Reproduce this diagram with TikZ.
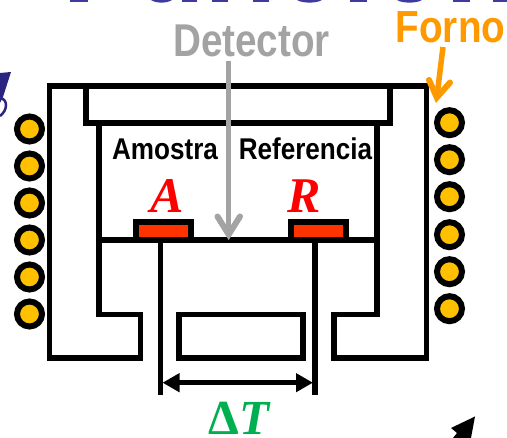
\documentclass[tikz,border=0pt]{standalone}
\usepackage{fontspec}
\usepackage{graphicx}
\setmainfont{Liberation Sans}
\newfontfamily\serifbi{Liberation Serif}
\usetikzlibrary{arrows.meta}
\definecolor{heater}{HTML}{FFC000}
\definecolor{ovenc}{HTML}{FF9900}
\definecolor{detc}{HTML}{A3A3A3}
\definecolor{panred}{HTML}{FF3300}
\definecolor{dtgreen}{HTML}{00B050}
\definecolor{titleblue}{HTML}{3F3A9E}
\definecolor{logoblue}{HTML}{2A2580}
\tikzset{
  wall/.style={draw=black,line width=5.8pt,line join=miter},
  coil/.style={circle,draw=black,fill=heater,line width=6pt,minimum size=25pt,inner sep=0pt},
  pan/.style={rectangle,draw=black,fill=panred,line width=6pt,minimum width=55pt,minimum height=18pt,inner sep=0pt},
  sanslab/.style={inner sep=0pt,anchor=base,font=\bfseries},
  seriflab/.style={inner sep=0pt,anchor=base,text=red,font=\serifbi\bfseries\itshape\fontsize{50}{50}\selectfont},
  titlefrag/.style={fill=titleblue,draw=none}
}
\begin{document}
\begin{tikzpicture}[x=1pt,y=-1pt]
\useasboundingbox (0,0) rectangle (507,438);
% cropped fragments along the edges
\foreach \a/\b in {70/88,182/197,212/228,253/269,350/367,453/470,493/507}
  \fill[titlefrag] (\a,0) rectangle (\b,1.6);
\foreach \a/\b in {151/172,297/322,397/422}
  \fill[titlefrag] (\a,0) .. controls (\a+5,3.5) and (\b-5,3.5) .. (\b,0) -- cycle;
\fill[logoblue] (0,73) -- (11,72) -- (3,97) -- (0,103) -- cycle;
\draw[logoblue,line width=2.5pt] (0,98) .. controls (8,99) and (8,110) .. (0,116);
\fill[black] (475,416.5) -- (451,428) -- (457,433) -- (453,438) -- (471,438) -- cycle;
% oven body
\draw[wall] (99,123) -- (99,314.5) -- (140.5,314.5) -- (140.5,358) -- (49.5,358) -- (49.5,86) -- (426.5,86) -- (426.5,358) -- (334,358) -- (334,314.5) -- (377,314.5) -- (377,123);
\draw[wall] (86,86) -- (86,123) -- (390,123) -- (390,86);
\draw[wall] (99,240) -- (377,240);
\draw[wall] (179,314.5) rectangle (303,358);
% coils
\foreach \n/\y in {1/129,2/166,3/203,4/240,5/277,6/314}
  \node[coil] (cl\n) at (29.5,\y) {};
\foreach \n/\y in {1/122.7,2/159.7,3/196.7,4/234.7,5/271.7,6/308.7}
  \node[coil] (cr\n) at (449.5,\y) {};
% pans
\node[pan] (panA) at (163.5,231) {};
\node[pan] (panR) at (318,231) {};
% stems and delta T
\coordinate (stemA) at (160.3,240);
\coordinate (stemR) at (315,240);
\coordinate (stemAb) at (160.3,395);
\coordinate (stemRb) at (315,395);
\coordinate (dA) at (162.5,382.7);
\coordinate (dR) at (313,382.7);
\draw[black,line width=5.5pt] (stemA) -- (stemAb);
\draw[black,line width=5.5pt] (stemR) -- (stemRb);
\draw[black,line width=5pt,{Triangle[length=17pt,width=18pt]}-{Triangle[length=17pt,width=18pt]}] (dA) -- (dR);
% labels
\node[sanslab] (amo) at (165,160) {\fontsize{30}{30}\selectfont\scalebox{.87}[1]{Amostra}};
\node[sanslab] (ref) at (305.5,160) {\fontsize{30}{30}\selectfont\scalebox{.87}[1]{Referencia}};
\node[sanslab,text=detc] (det) at (251.5,57) {\fontsize{46}{46}\selectfont\scalebox{.84}[1]{Detector}};
\node[sanslab,text=ovenc] (forno) at (450.5,43) {\fontsize{45}{45}\selectfont\scalebox{.86}[1]{Forno}};
\node[seriflab] (labA) at (167,213) {A};
\node[seriflab] (labR) at (304,213) {R};
\node[inner sep=0pt,anchor=base,text=dtgreen,font=\serifbi\bfseries\fontsize{49}{49}\selectfont] (dT) at (240,435) {Δ\textit{T}};
% pointers
\coordinate (detTop) at (228.7,61);
\coordinate (detVert) at (228.7,234.5);
\coordinate (detL) at (217.5,216.5);
\coordinate (detR) at (240,216.5);
\coordinate (ovenTop) at (443,47);
\coordinate (ovenVert) at (436.8,97.5);
\coordinate (ovenL) at (429,80);
\coordinate (ovenR) at (450,82.5);
\draw[detc,line width=5.5pt] (detTop) -- (detVert);
\draw[detc,line width=6pt,line cap=round,line join=miter] (detL) -- (detVert) -- (detR);
\draw[ovenc,line width=5.5pt] (ovenTop) -- (ovenVert);
\draw[ovenc,line width=6pt,line cap=round,line join=miter] (ovenL) -- (ovenVert) -- (ovenR);
\end{tikzpicture}
\end{document}
